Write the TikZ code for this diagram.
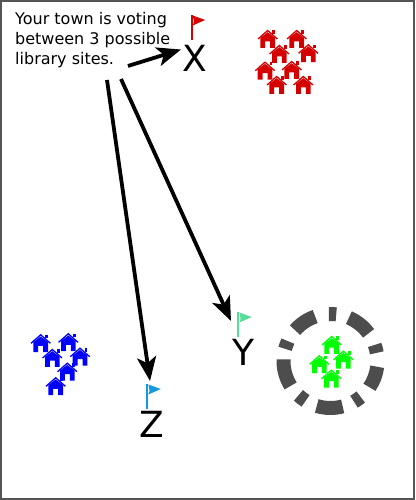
\documentclass[tikz,border=0pt]{standalone}
\usepackage{fontspec}
\setmainfont{DejaVu Sans}
\usetikzlibrary{arrows.meta}
\definecolor{townred}{HTML}{D40000}
\definecolor{flagy}{HTML}{55DD99}
\definecolor{flagz}{HTML}{1399DD}
\definecolor{ringgray}{HTML}{4D4D4D}
\definecolor{framegray}{HTML}{555555}
\tikzset{
  vote/.style={-{Stealth[length=24pt,width=19pt,inset=6pt]}, line width=3.8pt, black},
  sitename/.style={font=\fontsize{36}{36}\selectfont, inner sep=0pt},
  pics/homeicon/.style={code={
    \fill (-7.3,17.9) -- (-7.3,7.8) -- (0,2.2) -- (7.3,7.8) -- (7.3,17.9) -- (2.5,17.9) -- (2.5,11.5) -- (-2.5,11.5) -- (-2.5,17.9) -- cycle;
    \draw[line width=1.3pt] (-9.7,9) -- (0,0.5) -- (9.7,9);
    \fill (4.6,0.3) rectangle (7.2,3.8);
  }},
  pics/siteflag/.style={code={
    \draw[line width=2.2pt, #1] (0,0) -- (0,25);
    \fill[#1] (1,0.5) -- (13.5,5) -- (1,10.5) .. controls (3,7) and (2,4) .. cycle;
  }}
}
\begin{document}
\begin{tikzpicture}[x=1pt,y=-1pt]
\useasboundingbox (0,0) rectangle (415,500);
\draw[framegray, line width=2pt] (0.6,0.6) rectangle (414.4,499.4);
% text
\node[anchor=north west, inner sep=0pt, align=left, font=\fontsize{16}{20}\selectfont] (intro) at (15,12) {Your town is voting\\between 3 possible\\library sites.};
% sites
\pic at (191.7,15) {siteflag=townred};
\node[sitename] (siteX) at (195,58.5) {X};
\pic at (238.3,312) {siteflag=flagy};
\node[sitename] (siteY) at (243.5,352) {Y};
\pic at (147.3,384) {siteflag=flagz};
\node[sitename] (siteZ) at (152,424.5) {Z};
% arrows
\coordinate (startX) at (128,66);
\coordinate (startY) at (121,79);
\coordinate (startZ) at (107,80);
\coordinate (endX) at (181,49.5);
\coordinate (endY) at (231,321);
\coordinate (endZ) at (150,381);
\draw[vote] (startX) -- (endX);
\draw[vote] (startY) -- (endY);
\draw[vote] (startZ) -- (endZ);
% towns
\foreach \x/\y in {267.7/30,296.7/30,279.3/45,308.3/44.3,265/61.7,291.7/61,276.7/76,303.3/76}
  \pic[color=townred] at (\x,\y) {homeicon};
\foreach \x/\y in {40.7/334.3,68.3/333.3,52.3/349,80/347.7,67.3/362.7,55.7/377.3}
  \pic[color=blue] at (\x,\y) {homeicon};
\foreach \x/\y in {331.7/336,343.3/350.7,319.3/355.3,331.3/369.7}
  \pic[color=green] at (\x,\y) {homeicon};
% ring
\coordinate (ringc) at (330.5,361);
\foreach \a/\b in {83/92,36/67,10/20,-34/-7,-60/-50,-107/-75,-133/-122,178/212,155/165,109/139}
  \draw[ringgray, line width=14pt] ([shift={(\a:47pt)}]ringc) arc[start angle=-\a, end angle=-\b, radius=47];
\end{tikzpicture}
\end{document}
